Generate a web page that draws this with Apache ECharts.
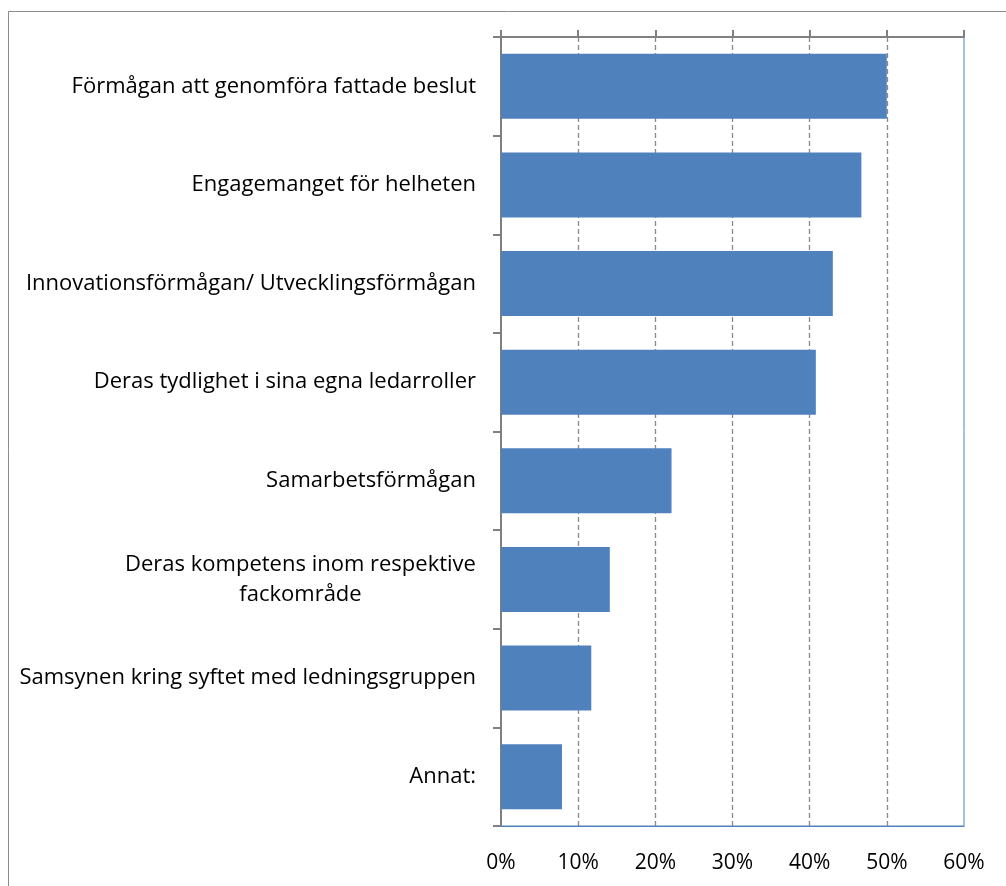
<!DOCTYPE html>
<html><head><meta charset="utf-8">
<script src="https://cdn.jsdelivr.net/npm/echarts@6/dist/echarts.min.js"></script>
<style>html,body{margin:0;padding:0;background:#fff}#c{width:1006px;height:886px}</style>
</head><body><div id="c"></div>
<script>
const categories = [
  "Förmågan att genomföra fattade beslut",
  "Engagemanget för helheten",
  "Innovationsförmågan/ Utvecklingsförmågan",
  "Deras tydlighet i sina egna ledarroller",
  "Samarbetsförmågan",
  "Deras kompetens inom respektive\nfackområde",
  "Samsynen kring syftet med ledningsgruppen",
  "Annat:"
];
const values = [50.0, 46.7, 43.0, 40.8, 22.1, 14.1, 11.7, 7.9];
const xTicks = [0, 10, 20, 30, 40, 50, 60];

const font = '"Open Sans"';
const fsize = 22;
const ctx = document.createElement('canvas').getContext('2d');
ctx.font = fsize + 'px ' + font;
function lineW(s) { return Math.ceil(ctx.measureText(s).width); }

const chart = echarts.init(document.getElementById('c'), null, {renderer: 'canvas'});
chart.setOption({
  animation: false,
  backgroundColor: '#fff',
  graphic: [{
    type: 'rect', silent: true, z: -10,
    shape: {x: 8.5, y: 11.5, width: 1100, height: 1000},
    style: {fill: 'none', stroke: '#8c8c8c', lineWidth: 1}
  }],
  grid: {left: 501, top: 37, right: 42, bottom: 60, show: true, borderColor: '#4F81BD', borderWidth: 1, containLabel: false},
  xAxis: [{
    type: 'value', position: 'top', min: xTicks[0], max: xTicks[xTicks.length - 1], interval: 10,
    axisLine: {show: true, lineStyle: {color: '#808080', width: 2}},
    axisTick: {show: true, inside: false, length: 7, lineStyle: {color: '#808080', width: 2}},
    axisLabel: {show: false},
    splitLine: {show: true, showMinLine: false, showMaxLine: false, lineStyle: {color: '#8a8a8a', type: [5, 3], width: 1.3}}
  }, {
    type: 'value', position: 'bottom', min: xTicks[0], max: xTicks[xTicks.length - 1], interval: 10,
    axisLine: {show: true, lineStyle: {color: '#4F81BD', width: 1}},
    axisTick: {show: false},
    splitLine: {show: false},
    axisLabel: {show: true, formatter: '{value}%', color: '#000', fontFamily: font, fontSize: 21, margin: 27}
  }],
  yAxis: {
    type: 'category', data: categories, inverse: true,
    axisLine: {show: true, lineStyle: {color: '#808080', width: 2}},
    axisTick: {show: true, length: 8, lineStyle: {color: '#808080', width: 2}},
    axisLabel: {
      color: '#000', fontFamily: font, fontSize: fsize, margin: 25, align: 'right', lineHeight: 30,
      formatter: function (v) {
        if (v.indexOf('\n') >= 0) {
          const parts = v.split('\n');
          const w = Math.max.apply(null, parts.map(lineW));
          return parts.map(s => '{c' + w + '|' + s + '}').join('\n');
        }
        return v;
      },
      rich: (function () {
        const r = {};
        categories.filter(c => c.indexOf('\n') >= 0).forEach(c => {
          const w = Math.max.apply(null, c.split('\n').map(lineW));
          r['c' + w] = {width: w, align: 'center', fontFamily: font, fontSize: fsize, color: '#000', lineHeight: 30};
        });
        return r;
      })()
    }
  },
  series: [{
    type: 'bar', data: values, xAxisIndex: 0, barCategoryGap: '34%',
    itemStyle: {color: '#4F81BD'}
  }]
});
</script></body></html>
